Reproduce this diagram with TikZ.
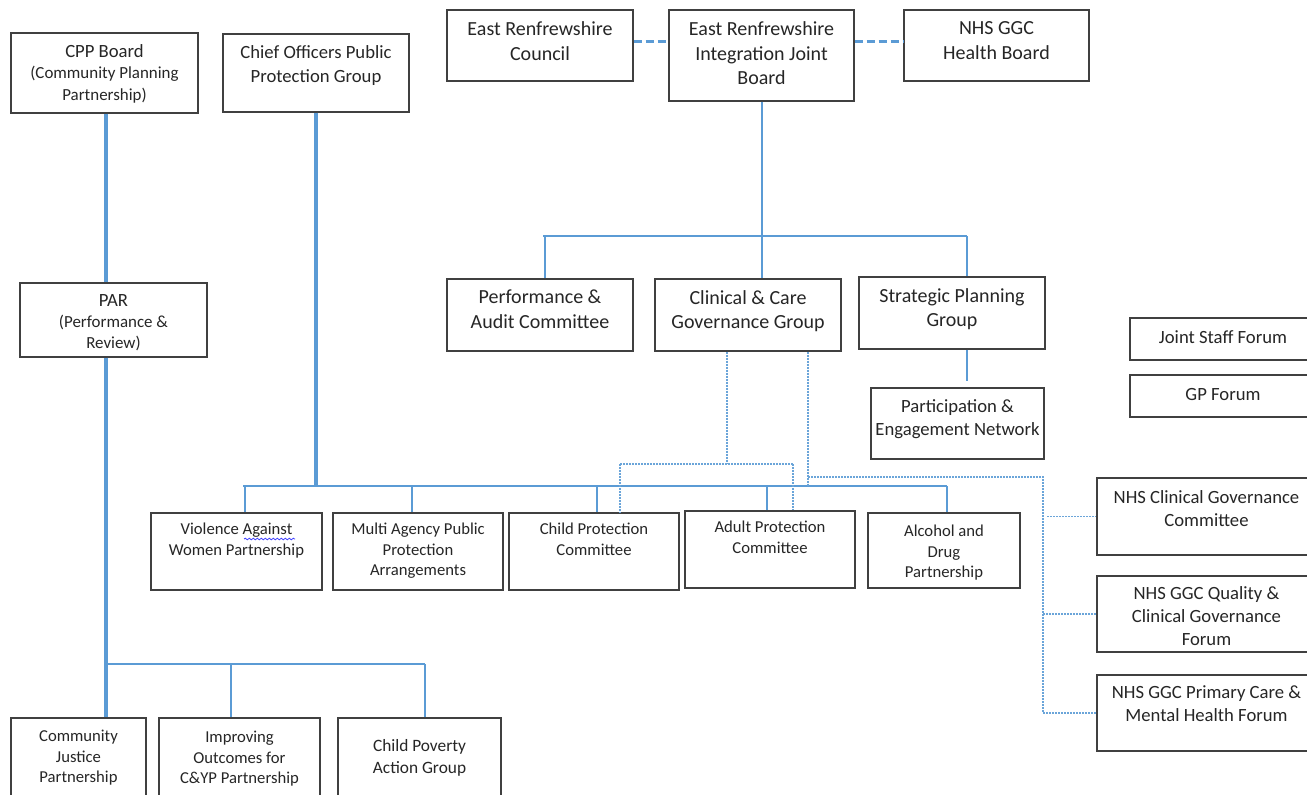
\documentclass[tikz,border=0pt]{standalone}
\usepackage{fontspec}
\setmainfont{Carlito}
\usetikzlibrary{decorations.pathmorphing}
\definecolor{ln}{HTML}{5B9BD5}
\definecolor{bd}{HTML}{404040}
\definecolor{tx}{HTML}{262626}
\newcommand\fntA{\fontsize{15}{18.4}\selectfont}
\newcommand\fntB{\fontsize{14}{17.4}\selectfont}
\newcommand\fntBB{\fontsize{14}{18}\selectfont}
\newcommand\fntC{\fontsize{12.5}{15.3}\selectfont}
\newcommand\fntD{\fontsize{12.7}{15.9}\selectfont}
\newcommand\fntE{\fontsize{13}{16.5}\selectfont}
% name, x1, y1, x2, y2, text top, font, text
\newcommand\bx[8]{%
  \node[box, minimum width={(#4-#2)*0.75pt}, minimum height={(#5-#3)*0.75pt}]
    (#1) at ({(#2+#4)/2},{(#3+#5)/2}) {};
  \node[txt, font=#7, anchor=north] (#1t) at ({(#2+#4)/2},#6) {#8};}
\tikzset{
  box/.style={draw=bd, line width=1pt, rectangle, inner sep=0pt, fill=white},
  txt/.style={align=center, inner sep=0pt, text=tx},
  thinl/.style={draw=ln, line width=0.9pt},
  midl/.style={draw=ln, line width=1.5pt},
  thickl/.style={draw=ln, line width=2.8pt},
  thickml/.style={draw=ln, line width=2.3pt},
  dotl/.style={draw=ln!90, line width=0.8pt, dash pattern=on 1.5pt off 0.75pt},
  topdash/.style={draw=ln, line width=2.7pt, dash pattern=on 6pt off 3pt},
}
\begin{document}
\begin{tikzpicture}[x=0.75pt,y=-0.75pt]
\useasboundingbox (0,0) rectangle (1307,794);
% ---------- boxes ----------
\bx{cpp}{11}{33}{198}{113}{44.5}{\fntD}{{\fontsize{14}{15.9}\selectfont CPP Board}\\(Community Planning\\Partnership)}
\bx{copp}{223}{34}{409}{112}{45}{\fntBB}{Chief Officers Public\\Protection Group}
\bx{erc}{447}{10}{633}{81}{21.5}{\fntA}{East Renfrewshire\\Council}
\bx{ijb}{669}{10}{854}{101}{21.5}{\fntA}{East Renfrewshire\\Integration Joint\\Board}
\bx{nhshb}{904}{10}{1089}{81}{21.5}{\fntA}{NHS GGC\\Health Board}
\bx{par}{20}{283}{207}{357}{294}{\fntD}{{\fontsize{14}{15.9}\selectfont PAR}\\(Performance \&\\Review)}
\bx{pac}{447}{279}{633}{351}{290}{\fntA}{Performance \&\\Audit Committee}
\bx{ccgg}{655}{279}{841}{351}{290}{\fntA}{Clinical \& Care\\Governance Group}
\bx{spg}{859}{277}{1045}{349}{288}{\fntA}{Strategic Planning\\Group}
\bx{pen}{871}{388}{1044}{459}{399}{\fntB}{Participation \&\\Engagement Network}
\bx{jsf}{1130}{318}{1316}{360}{330}{\fntB}{Joint Staff Forum}
\bx{gpf}{1130}{375}{1316}{417}{388}{\fntB}{GP Forum}
\bx{ncgc}{1097}{478}{1316}{555}{490}{\fntB}{NHS Clinical Governance\\Committee}
\bx{nqcg}{1097}{576}{1316}{652}{586}{\fntB}{NHS GGC Quality \&\\Clinical Governance\\Forum}
\bx{npcm}{1097}{675}{1316}{751}{685}{\fntB}{NHS GGC Primary Care \&\\Mental Health Forum}
\bx{vaw}{151}{513}{322}{590}{523}{\fntC}{Violence Against\\Women Partnership}
\bx{mappa}{333}{513}{503}{590}{523}{\fntC}{Multi Agency Public\\Protection\\Arrangements}
\bx{cpc}{509}{513}{679}{590}{523}{\fntC}{Child Protection\\Committee}
\bx{apc}{685}{511}{855}{588}{521}{\fntC}{Adult Protection\\Committee}
\bx{adp}{868}{513}{1020}{588}{525}{\fntC}{Alcohol and\\Drug\\Partnership}
\bx{cjp}{11}{718}{146}{802}{730}{\fntC}{Community\\Justice\\Partnership}
\bx{io}{159}{718}{320}{802}{731}{\fntC}{Improving\\Outcomes for\\C\&YP Partnership}
\bx{cpag}{338}{718}{501}{802}{739.5}{\fntE}{Child Poverty\\Action Group}
% spell-check mark under "Against"
\draw[blue!75, line width=0.6pt, decorate, decoration={snake, amplitude=0.6pt, segment length=3pt}] (244,539) -- (295,539);
% ---------- named coordinates ----------
\coordinate (topy) at (0,41.5);
\coordinate (cppx) at (106,0);
\coordinate (bus1) at (0,236);
\coordinate (bus2) at (0,486);
\coordinate (bus3) at (0,664);
\coordinate (dash1) at (0,464);
\coordinate (dash2) at (0,477);
\coordinate (nhsx) at (1043,0);
\coordinate (x543) at (543,0);
\coordinate (x545) at (545,0);
\coordinate (x967) at (967,0);
\coordinate (x243) at (243,0);
\coordinate (x245) at (245,0);
\coordinate (x412) at (412,0);
\coordinate (x597) at (597,0);
\coordinate (x767) at (767,0);
\coordinate (x947) at (947,0);
\coordinate (x727) at (727,0);
\coordinate (x808) at (808,0);
\coordinate (x620) at (620,0);
\coordinate (x793) at (793,0);
\coordinate (x231) at (231,0);
\coordinate (x425) at (425,0);
\coordinate (x1047) at (1047,0);
\coordinate (penend) at (967,381);
% ---------- top dashed links ----------
\draw[topdash] (erc.east |- topy) -- (ijb.west |- topy);
\draw[topdash] (ijb.east |- topy) -- (nhshb.west |- topy);
% ---------- IJB tree ----------
\draw[midl] (ijb.south) -- (ijb.south |- ccgg.north);
\draw[thinl] (x543 |- bus1) -- (x967 |- bus1);
\draw[thinl] (x545 |- bus1) -- (x545 |- pac.north);
\draw[thinl] (x967 |- bus1) -- (x967 |- spg.north);
\draw[thinl] (x967 |- spg.south) -- (penend);
% ---------- CPP tree ----------
\draw[thickl] (cppx |- cpp.south) -- (cppx |- par.north);
\draw[thickl] (cppx |- par.south) -- (cppx |- cjp.north);
\draw[thinl] (cppx |- bus3) -- (x425 |- bus3);
\draw[thinl] (x231 |- bus3) -- (x231 |- io.north);
\draw[thinl] (x425 |- bus3) -- (x425 |- cpag.north);
% ---------- Chief Officers tree ----------
\draw[thickml] (copp.south) -- (copp.south |- bus2);
\draw[thinl] (x243 |- bus2) -- (x947 |- bus2);
\draw[thinl] (x245 |- bus2) -- (x245 |- vaw.north);
\draw[thinl] (x412 |- bus2) -- (x412 |- mappa.north);
\draw[thinl] (x597 |- bus2) -- (x597 |- cpc.north);
\draw[thinl] (x767 |- bus2) -- (x767 |- apc.north);
\draw[thinl] (x947 |- bus2) -- (x947 |- adp.north);
% ---------- dotted governance links ----------
\draw[dotl] (x727 |- ccgg.south) -- (x727 |- dash1);
\draw[dotl] (x620 |- dash1) -- (x793 |- dash1);
\draw[dotl] (x620 |- dash1) -- (x620 |- cpc.north);
\draw[dotl] (x793 |- dash1) -- (x793 |- apc.north);
\draw[dotl] (x808 |- ccgg.south) -- (x808 |- bus2);
\draw[dotl] (x808 |- dash2) -- (nhsx |- dash2) -- (nhsx |- npcm.west) -- (npcm.west);
\draw[dotl] (x1047 |- ncgc.west) -- (ncgc.west);
\draw[dotl] (nhsx |- nqcg.west) -- (nqcg.west);
\end{tikzpicture}
\end{document}
